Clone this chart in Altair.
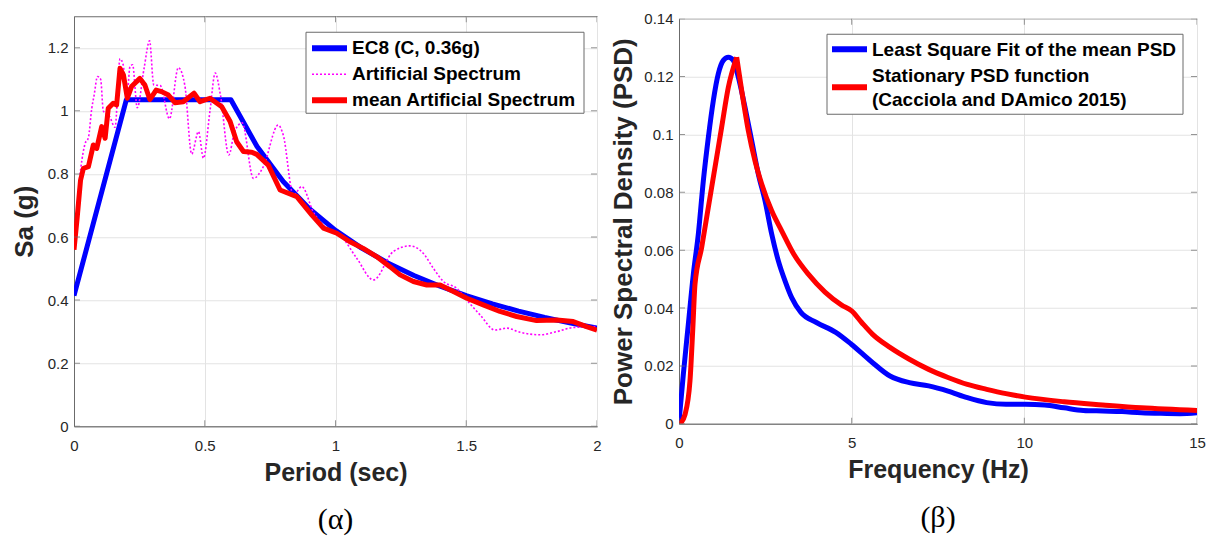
import altair as alt
import pandas as pd

# ---------------- data ----------------
# (a) response spectra
ec8_T = [0, 0.2, 0.6, 0.7, 0.8, 0.9, 1.0, 1.1, 1.2, 1.3, 1.4, 1.5, 1.6, 1.7, 1.8, 1.9, 2.0]
ec8_Sa = [0.414, 1.035, 1.035, 0.887, 0.776, 0.69, 0.621, 0.565, 0.518, 0.478, 0.444,
          0.414, 0.388, 0.365, 0.345, 0.327, 0.311]

art_T = [0, 0.012, 0.026, 0.042, 0.055, 0.068, 0.077, 0.09, 0.102, 0.112, 0.136, 0.157,
         0.176, 0.188, 0.202, 0.214, 0.224, 0.242, 0.268, 0.289, 0.305, 0.33, 0.365,
         0.399, 0.424, 0.45, 0.476, 0.495, 0.52, 0.54, 0.56, 0.592, 0.614, 0.643, 0.686,
         0.724, 0.781, 0.8, 0.839, 0.871, 0.915, 0.966, 1.017, 1.081, 1.145, 1.221,
         1.285, 1.336, 1.374, 1.413, 1.464, 1.502, 1.553, 1.61, 1.655, 1.706, 1.782,
         1.846, 1.909, 2.0]
art_Sa = [0.57, 0.70, 0.818, 0.895, 0.915, 1.008, 1.05, 1.109, 1.1, 1.0, 0.982, 0.948,
          1.165, 1.146, 1.04, 1.14, 1.146, 1.01, 1.135, 1.222, 1.082, 1.08, 0.975,
          1.137, 1.08, 0.863, 0.934, 0.85, 1.0, 1.12, 1.05, 0.86, 0.934, 0.962, 0.786,
          0.823, 0.955, 0.924, 0.733, 0.76, 0.68, 0.628, 0.607, 0.533, 0.464, 0.554,
          0.572, 0.548, 0.501, 0.459, 0.437, 0.4, 0.353, 0.305, 0.311, 0.298, 0.29,
          0.3, 0.313, 0.316]

mean_T = [0, 0.012, 0.025, 0.036, 0.055, 0.074, 0.087, 0.106, 0.119, 0.131, 0.15, 0.163,
          0.176, 0.189, 0.204, 0.22, 0.252, 0.271, 0.29, 0.314, 0.335, 0.361, 0.386,
          0.418, 0.459, 0.482, 0.52, 0.565, 0.597, 0.622, 0.648, 0.68, 0.699, 0.743,
          0.788, 0.852, 0.909, 0.954, 1.005, 1.055, 1.106, 1.157, 1.208, 1.247, 1.298,
          1.349, 1.4, 1.451, 1.502, 1.565, 1.629, 1.693, 1.769, 1.846, 1.909, 1.96, 2.0]
mean_Sa = [0.56, 0.66, 0.78, 0.818, 0.823, 0.892, 0.881, 0.95, 0.913, 1.008, 1.024, 1.019,
           1.135, 1.114, 1.04, 1.077, 1.103, 1.082, 1.036, 1.066, 1.061, 1.05, 1.026,
           1.029, 1.056, 1.029, 1.04, 1.013, 0.966, 0.902, 0.871, 0.869, 0.862, 0.828,
           0.749, 0.728, 0.67, 0.628, 0.612, 0.585, 0.564, 0.538, 0.506, 0.48, 0.459,
           0.448, 0.448, 0.427, 0.406, 0.385, 0.364, 0.348, 0.335, 0.337, 0.332, 0.316,
           0.305]

# (b) power spectral densities
fit_f = [0, 0.125, 0.27, 0.415, 0.56, 0.705, 0.85, 0.994, 1.139, 1.284, 1.429, 1.573,
         1.718, 1.911, 2.104, 2.298, 2.491, 2.684, 2.877, 3.07, 3.263, 3.53, 3.98, 4.54,
         4.99, 5.55, 6.11, 6.67, 7.23, 7.79, 8.35, 8.91, 9.47, 10.03, 10.59, 11.15,
         11.71, 12.27, 12.83, 13.39, 13.95, 14.51, 15.0]
fit_psd = [0.0005, 0.017, 0.0344, 0.0517, 0.0656, 0.084, 0.099, 0.1117, 0.121, 0.1256,
           0.1267, 0.1256, 0.1198, 0.1094, 0.0979, 0.0863, 0.0771, 0.0656, 0.0563,
           0.0494, 0.0436, 0.0385, 0.035, 0.0316, 0.0275, 0.0217, 0.0165, 0.0142,
           0.0131, 0.0113, 0.009, 0.0073, 0.0067, 0.0067, 0.0065, 0.0055, 0.0046,
           0.0044, 0.0042, 0.0038, 0.0036, 0.0035, 0.0038]

# stationary PSD: rising branch and decaying branch meet at the sharp peak
stat_rise_f = [0.03, 0.174, 0.318, 0.4, 0.463, 0.656, 0.849, 1.042, 1.235, 1.429, 1.67]
stat_rise_psd = [0.0, 0.0032, 0.0148, 0.033, 0.0482, 0.0609, 0.0748, 0.0886, 0.1025,
                 0.1163, 0.1267]
stat_fall_f = [1.67, 1.815, 2.008, 2.201, 2.394, 2.684, 2.973, 3.33, 3.745, 4.228, 4.71,
               5.0, 5.29, 5.6, 6.11, 6.67, 7.23, 7.79, 8.35, 8.91, 9.47, 10.03, 11.15,
               12.27, 13.39, 15.0]
stat_fall_psd = [0.1267, 0.1152, 0.1013, 0.0909, 0.0829, 0.0736, 0.0667, 0.0585, 0.0517,
                 0.0455, 0.041, 0.039, 0.035, 0.031, 0.0264, 0.0223, 0.0188, 0.016,
                 0.0136, 0.0119, 0.0104, 0.0092, 0.0076, 0.0065, 0.0055, 0.0046]

left_xticks = [0, 0.5, 1, 1.5, 2]
left_yticks = [0, 0.2, 0.4, 0.6, 0.8, 1.0, 1.2]
right_xticks = [0, 5, 10, 15]
right_yticks = [0, 0.02, 0.04, 0.06, 0.08, 0.1, 0.12, 0.14]

left_labels = ["EC8 (C, 0.36g)", "Artificial Spectrum", "mean Artificial Spectrum"]
right_labels = ["Least Square Fit of the mean PSD", "Stationary PSD function",
                "(Cacciola and DAmico 2015)"]

# ---------------- styling ----------------
FONT = "Liberation Sans"
TXT = "#262626"
FRAME = "#6b6b6b"
GRID = "#e3e3e3"
W1, H1 = 523, 410
W2, H2 = 518, 405
LEG_FS = 19

dummy = pd.DataFrame({"a": [0]})


def axis(vals, title, lp, tp):
    return alt.Axis(values=vals, format="~g", title=title, grid=True, ticks=False,
                    labelPadding=lp, titlePadding=tp, labelFlush=False,
                    labelOverlap=False)


def inward_ticks(xfield, xscale, xvals, yfield, yscale, yvals, w, h):
    xt = pd.DataFrame({xfield: xvals})
    yt = pd.DataFrame({yfield: yvals})
    layers = []
    for yv in (0, h):
        layers.append(alt.Chart(xt).mark_tick(orient="vertical", size=12, thickness=1,
                                              color=FRAME, clip=True).encode(
            x=alt.X(f"{xfield}:Q", scale=xscale), y=alt.value(yv)))
    for xv in (0, w):
        layers.append(alt.Chart(yt).mark_tick(orient="horizontal", size=12, thickness=1,
                                              color=FRAME, clip=True).encode(
            y=alt.Y(f"{yfield}:Q", scale=yscale), x=alt.value(xv)))
    return layers


def legend_box(x0, x1, y0, y1):
    return alt.Chart(dummy).mark_rect(fill="white", stroke=FRAME, strokeWidth=1).encode(
        x=alt.value(x0), x2=alt.value(x1), y=alt.value(y0), y2=alt.value(y1))


def legend_line(x0, x1, y, color, width, dash=None):
    kw = dict(color=color, strokeWidth=width)
    if dash:
        kw["strokeDash"] = dash
    return alt.Chart(dummy).mark_rule(**kw).encode(
        x=alt.value(x0), x2=alt.value(x1), y=alt.value(y))


def legend_text(x, y, label):
    return alt.Chart(dummy).mark_text(align="left", baseline="middle", font=FONT,
                                      fontSize=LEG_FS, fontWeight="bold",
                                      color="black").encode(
        x=alt.value(x), y=alt.value(y), text=alt.value(label))


def panel_title(txt):
    return alt.TitleParams(txt, orient="bottom", font="Liberation Serif", fontSize=30,
                           fontWeight="normal", color="black", offset=20)


# ---------------- left panel ----------------
xs1 = alt.Scale(domain=[0, 2], nice=False, zero=False)
ys1 = alt.Scale(domain=[0, 1.3], nice=False, zero=False)
X1 = alt.X("T:Q", scale=xs1, axis=axis(left_xticks, "Period (sec)", 12, 7))
Y1 = alt.Y("Sa:Q", scale=ys1, axis=axis(left_yticks, "Sa (g)", 6, 10))

df_ec8 = pd.DataFrame({"T": ec8_T, "Sa": ec8_Sa})
df_art = pd.DataFrame({"T": art_T, "Sa": art_Sa})
df_mean = pd.DataFrame({"T": mean_T, "Sa": mean_Sa})

l_ec8 = alt.Chart(df_ec8).mark_line(color="#0000ff", strokeWidth=5, strokeJoin="round",
                                    clip=True).encode(x=X1, y=Y1)
l_art = alt.Chart(df_art).mark_line(color="#ff00ff", strokeWidth=1.6, strokeDash=[2, 2],
                                    interpolate="monotone", clip=True).encode(x=X1, y=Y1)
l_mean = alt.Chart(df_mean).mark_line(color="#ff0000", strokeWidth=5, strokeJoin="round",
                                      clip=True).encode(x=X1, y=Y1)

left_layers = [l_ec8, l_art, l_mean]
left_layers += inward_ticks("T", xs1, left_xticks, "Sa", ys1, left_yticks, W1, H1)
left_layers += [
    legend_box(232, 510, 16, 97),
    legend_line(238, 273, 32, "#0000ff", 6),
    legend_line(238, 273, 58, "#ff00ff", 1.6, [2, 2]),
    legend_line(238, 273, 84, "#ff0000", 6),
    legend_text(278, 32, left_labels[0]),
    legend_text(278, 58, left_labels[1]),
    legend_text(278, 84, left_labels[2]),
]

left = alt.layer(*left_layers).properties(width=W1, height=H1, title=panel_title("(α)"))

# ---------------- right panel ----------------
xs2 = alt.Scale(domain=[0, 15], nice=False, zero=False)
ys2 = alt.Scale(domain=[0, 0.14], nice=False, zero=False)
X2 = alt.X("f:Q", scale=xs2, axis=axis(right_xticks, "Frequency (Hz)", 12, 7))
Y2 = alt.Y("psd:Q", scale=ys2, axis=axis(right_yticks, "Power Spectral Density (PSD)", 6, 7))

df_fit = pd.DataFrame({"f": fit_f, "psd": fit_psd})
df_rise = pd.DataFrame({"f": stat_rise_f, "psd": stat_rise_psd})
df_fall = pd.DataFrame({"f": stat_fall_f, "psd": stat_fall_psd})

l_fit = alt.Chart(df_fit).mark_line(color="#0000ff", strokeWidth=5, interpolate="monotone",
                                    clip=True).encode(x=X2, y=Y2)
l_rise = alt.Chart(df_rise).mark_line(color="#ff0000", strokeWidth=5, interpolate="monotone",
                                      clip=True).encode(x=X2, y=Y2)
l_fall = alt.Chart(df_fall).mark_line(color="#ff0000", strokeWidth=5, interpolate="monotone",
                                      clip=True).encode(x=X2, y=Y2)

right_layers = [l_fit, l_rise, l_fall]
right_layers += inward_ticks("f", xs2, right_xticks, "psd", ys2, right_yticks, W2, H2)
right_layers += [
    legend_box(148, 504, 15.5, 95.5),
    legend_line(153, 188, 30.5, "#0000ff", 6),
    legend_line(153, 188, 68.5, "#ff0000", 6),
    legend_text(193, 31.5, right_labels[0]),
    legend_text(193, 57.5, right_labels[1]),
    legend_text(193, 81.5, right_labels[2]),
]

right = alt.layer(*right_layers).properties(width=W2, height=H2, title=panel_title("(β)"))

chart = alt.hconcat(left, right, spacing=8, center=True).properties(
    padding={"left": 10, "top": 11, "right": 0, "bottom": 0},
    background="white",
).configure_view(stroke=FRAME, strokeWidth=1).configure_axis(
    labelFont=FONT, labelFontSize=15, labelColor=TXT,
    titleFont=FONT, titleFontWeight="bold", titleColor=TXT,
    domainColor=FRAME, domainWidth=1, gridColor=GRID, gridWidth=1,
).configure_axisX(titleFontSize=25).configure_axisY(titleFontSize=26)

chart.save("out.html", embed_options={"renderer": "svg", "actions": False})
